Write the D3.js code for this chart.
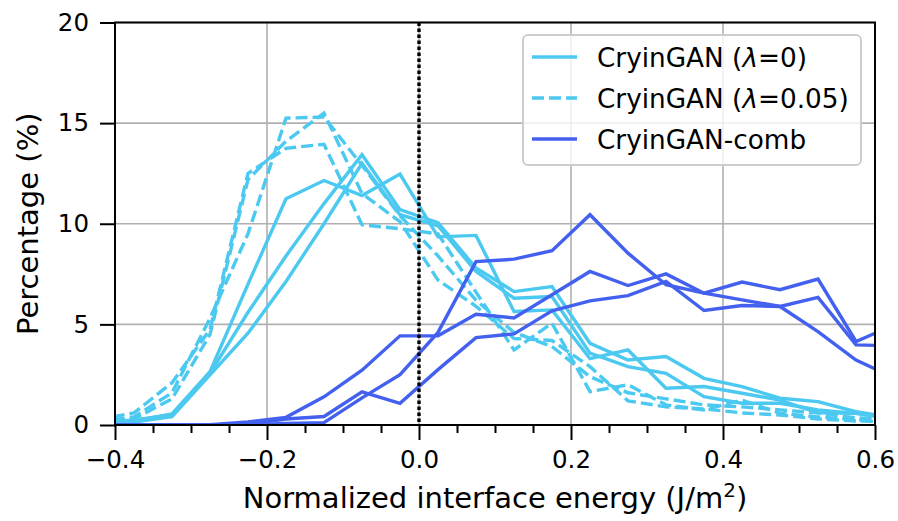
<!DOCTYPE html>
<html>
<head>
<meta charset="utf-8">
<script src="https://cdn.jsdelivr.net/npm/d3@7"></script>
<style>
  html, body { margin: 0; padding: 0; background: #fff; }
  svg { display: block; font-family: "DejaVu Sans", sans-serif; }
</style>
</head>
<body>
<svg id="chart" width="898" height="521"></svg>
<script>
// Bin centres of the interface-energy histograms (J/m^2)
const energyBins = [-0.425, -0.375, -0.325, -0.275, -0.225, -0.175, -0.125, -0.075, -0.025, 0.025, 0.075,
                    0.125, 0.175, 0.225, 0.275, 0.325, 0.375, 0.425, 0.475, 0.525, 0.575, 0.625];

// CryinGAN (lambda = 0), three runs
const lambda0Run1 = [0.1, 0.2, 0.55, 2.65, 7.0, 11.24, 12.15, 11.4, 12.47, 9.35, 9.42, 5.64, 5.72, 3.3, 3.73, 1.83, 1.91, 1.58, 1.24, 0.6, 0.58, 0.3];
const lambda0Run2 = [0.1, 0.25, 0.5, 2.57, 5.6, 8.4, 11.0, 13.43, 10.7, 10.05, 7.8, 6.63, 6.88, 4.06, 3.23, 3.4, 2.32, 1.91, 1.33, 1.16, 0.66, 0.35];
const lambda0Run3 = [0.1, 0.15, 0.42, 2.49, 4.56, 7.13, 10.0, 13.0, 10.45, 9.9, 7.63, 6.3, 6.38, 3.57, 2.9, 2.57, 1.41, 1.08, 1.08, 0.75, 0.58, 0.3];

// CryinGAN (lambda = 0.05), three runs
const lambda005Run1 = [0.25, 0.6, 2.1, 4.75, 12.5, 13.75, 13.95, 9.95, 9.75, 9.5, 6.6, 3.73, 5.06, 1.66, 2.0, 1.0, 0.75, 1.24, 0.58, 0.4, 0.25, 0.2];
const lambda005Run2 = [0.15, 0.4, 1.6, 5.3, 9.5, 15.25, 15.3, 12.9, 10.4, 8.4, 6.2, 4.6, 3.9, 2.4, 1.6, 1.3, 1.0, 0.9, 0.75, 0.6, 0.35, 0.3];
const lambda005Run3 = [0.1, 0.3, 1.3, 4.5, 12.2, 14.1, 15.5, 11.5, 10.1, 7.2, 5.9, 4.3, 4.2, 2.9, 1.2, 0.9, 0.8, 0.6, 0.5, 0.3, 0.2, 0.15];

// CryinGAN-comb, three runs
const combRun1 = [0, 0, 0, 0.02, 0.15, 0.38, 1.4, 2.72, 4.43, 4.43, 5.5, 5.32, 6.47, 7.63, 6.93, 7.51, 6.55, 7.1, 6.72, 7.25, 4.15, 4.97];
const combRun2 = [0, 0, 0, 0, 0.05, 0.3, 0.42, 1.65, 1.08, 2.75, 4.34, 4.53, 5.67, 6.17, 6.43, 7.13, 5.69, 5.94, 5.89, 6.34, 3.98, 3.93];
const combRun3 = [0, 0, 0, 0, 0, 0.08, 0.12, 1.35, 2.5, 4.6, 8.12, 8.24, 8.66, 10.45, 8.54, 6.97, 6.55, 6.22, 5.89, 4.64, 3.23, 2.34];

const xTicks = [-0.4, -0.2, 0.0, 0.2, 0.4, 0.6];
const xMinorTicks = [-0.35, -0.3, -0.25, -0.15, -0.1, -0.05, 0.05, 0.1, 0.15, 0.25, 0.3, 0.35, 0.45, 0.5, 0.55];
const yTicks = [0, 5, 10, 15, 20];

const legendLabels = ["CryinGAN (\u03bb=0)", "CryinGAN (\u03bb=0.05)", "CryinGAN-comb"];

const lightBlue = "#4cc9f0";
const darkBlue = "#4361ee";
const dashPattern = "12,5";
const lineWidth = 3.4;

const series = [
  { values: lambda0Run1, color: lightBlue, dash: null },
  { values: lambda0Run2, color: lightBlue, dash: null },
  { values: lambda0Run3, color: lightBlue, dash: null },
  { values: lambda005Run1, color: lightBlue, dash: dashPattern },
  { values: lambda005Run2, color: lightBlue, dash: dashPattern },
  { values: lambda005Run3, color: lightBlue, dash: dashPattern },
  { values: combRun1, color: darkBlue, dash: null },
  { values: combRun2, color: darkBlue, dash: null },
  { values: combRun3, color: darkBlue, dash: null }
];

const svg = d3.select("#chart");
const plot = { left: 115, right: 875, top: 22.5, bottom: 425 };

const x = d3.scaleLinear().domain([-0.4, 0.6]).range([plot.left, plot.right]);
const y = d3.scaleLinear().domain([0, 20]).range([plot.bottom, plot.top]);

svg.append("defs").append("clipPath").attr("id", "plotClip")
  .append("rect")
  .attr("x", plot.left).attr("y", plot.top)
  .attr("width", plot.right - plot.left).attr("height", plot.bottom - plot.top);

// Grid
const grid = svg.append("g").attr("stroke", "#b0b0b0").attr("stroke-width", 1.6);
xTicks.forEach(t => grid.append("line")
  .attr("x1", x(t)).attr("x2", x(t)).attr("y1", plot.top).attr("y2", plot.bottom));
yTicks.forEach(t => grid.append("line")
  .attr("x1", plot.left).attr("x2", plot.right).attr("y1", y(t)).attr("y2", y(t)));

// Data lines
const line = d3.line().x((d, i) => x(energyBins[i])).y(d => y(d));
const lines = svg.append("g").attr("clip-path", "url(#plotClip)");
series.forEach(s => {
  lines.append("path")
    .attr("d", line(s.values))
    .attr("fill", "none")
    .attr("stroke", s.color)
    .attr("stroke-width", lineWidth)
    .attr("stroke-linejoin", "miter")
    .attr("stroke-dasharray", s.dash);
});

// Zero-energy reference line
svg.append("line")
  .attr("x1", x(0)).attr("x2", x(0)).attr("y1", plot.top).attr("y2", plot.bottom)
  .attr("stroke", "#000").attr("stroke-width", 3.4).attr("stroke-dasharray", "3.4,2.6");

// Axes
const xAxis = d3.axisBottom(x).tickValues(xTicks).tickSize(15).tickPadding(11)
  .tickFormat(d => d3.format(".1f")(d).replace("-", "\u2212"));
const gx = svg.append("g").attr("transform", `translate(0,${plot.bottom})`).call(xAxis);
const xMinor = d3.axisBottom(x).tickValues(xMinorTicks).tickSize(8).tickFormat("");
svg.append("g").attr("transform", `translate(0,${plot.bottom})`).call(xMinor)
  .call(g => g.select(".domain").remove());

const yAxis = d3.axisLeft(y).tickValues(yTicks).tickSize(15).tickPadding(11).tickFormat(d3.format("d"));
const gy = svg.append("g").attr("transform", `translate(${plot.left},0)`).call(yAxis);

svg.selectAll(".tick line").attr("stroke", "#000").attr("stroke-width", 2);
svg.selectAll(".domain").remove();
[gx, gy].forEach(g => g.selectAll(".tick text")
  .attr("font-family", "DejaVu Sans").attr("font-size", 24.5).attr("fill", "#000"));

// Frame
svg.append("rect")
  .attr("x", plot.left).attr("y", plot.top)
  .attr("width", plot.right - plot.left).attr("height", plot.bottom - plot.top)
  .attr("fill", "none").attr("stroke", "#000").attr("stroke-width", 2);

// Axis titles
const xTitle = svg.append("text")
  .attr("x", (plot.left + plot.right) / 2).attr("y", 508)
  .attr("text-anchor", "middle").attr("font-size", 29).attr("fill", "#000");
xTitle.append("tspan").text("Normalized interface energy (J/m");
xTitle.append("tspan").attr("font-size", 20).attr("dy", -11).text("2");
xTitle.append("tspan").attr("dy", 11).text(")");

svg.append("text")
  .attr("transform", `translate(38,${(plot.top + plot.bottom) / 2}) rotate(-90)`)
  .attr("text-anchor", "middle").attr("font-size", 29).attr("fill", "#000")
  .text("Percentage (%)");

// Legend
const legend = svg.append("g");
legend.append("rect")
  .attr("x", 523).attr("y", 35).attr("width", 338).attr("height", 130)
  .attr("rx", 5).attr("ry", 5)
  .attr("fill", "#fff").attr("fill-opacity", 0.8)
  .attr("stroke", "#cccccc").attr("stroke-width", 2);
const legendStyles = [
  { color: lightBlue, dash: null },
  { color: lightBlue, dash: dashPattern },
  { color: darkBlue, dash: null }
];
legendLabels.forEach((label, i) => {
  const cy = 57 + i * 41;
  legend.append("line")
    .attr("x1", 532).attr("x2", 577).attr("y1", cy).attr("y2", cy)
    .attr("stroke", legendStyles[i].color).attr("stroke-width", lineWidth)
    .attr("stroke-dasharray", legendStyles[i].dash);
  const t = legend.append("text")
    .attr("x", 597).attr("y", cy + 9.5)
    .attr("font-size", 26.3).attr("fill", "#000");
  const m = label.match(/^(.*\()(\u03bb)(.*)$/);
  if (m) {
    t.append("tspan").text(m[1]);
    t.append("tspan").attr("font-style", "italic").text(m[2]);
    t.append("tspan").text(m[3]);
  } else {
    t.text(label);
  }
});
</script>
</body>
</html>
